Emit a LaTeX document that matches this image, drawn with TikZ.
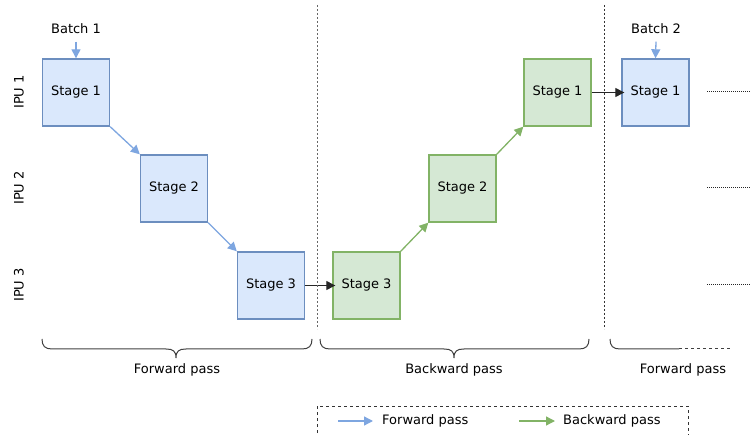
\documentclass[tikz,border=0pt]{standalone}
\usepackage{fontspec}
\setmainfont{DejaVu Sans}
\usetikzlibrary{arrows.meta}

\definecolor{fwdfill}{HTML}{DAE8FC}
\definecolor{fwdline}{HTML}{6C8EBF}
\definecolor{fwdarrow}{HTML}{7EA6E0}
\definecolor{bwdfill}{HTML}{D5E8D4}
\definecolor{bwdline}{HTML}{82B366}

\tikzset{
  stagebox/.style={minimum size=67pt, inner sep=0pt, line width=1.4pt},
  fwdbox/.style={stagebox, draw=fwdline, fill=fwdfill},
  bwdbox/.style={stagebox, draw=bwdline, fill=bwdfill},
  fwdarr/.style={draw=fwdarrow, line width=1.3pt, -{Triangle[width=9pt,length=9pt]}},
  bwdarr/.style={draw=bwdline, line width=1.3pt, -{Triangle[width=9pt,length=9pt]}},
  passarr/.style={draw=black!85, line width=1.3pt, -{Triangle[width=9pt,length=9pt]}},
  brace/.style={draw=black!75, line width=1pt},
}

\begin{document}
\begin{tikzpicture}[x=1pt, y=-1pt, font=\fontsize{13}{15}\selectfont]
\useasboundingbox (0,0) rectangle (752,435);

% IPU rows
\foreach \i/\y in {1/92, 2/188, 3/285} {
    \node[rotate=90] (ipu\i) at (19,\y) {IPU \i};
}

% Forward pass
\node[fwdbox] (f1) at (76,92.5) {Stage 1};
\node[fwdbox] (f2) at (174,188.5) {Stage 2};
\node[fwdbox] (f3) at (271,285.5) {Stage 3};

% Backward pass
\node[bwdbox] (b3) at (366.5,285.5) {Stage 3};
\node[bwdbox] (b2) at (462.5,188.5) {Stage 2};
\node[bwdbox] (b1) at (557.5,92.5) {Stage 1};

% Next batch
\node[fwdbox] (n1) at (655.5,92.5) {Stage 1};

% Batch inputs
\node (batch1) at (76,29) {Batch 1};
\node (batch2) at (656,29) {Batch 2};
\draw[fwdarr] (batch1.south) ++(0,4) -- (f1.north);
\draw[fwdarr] (batch2.south) ++(0,4) -- (n1.north);

% Connections
\draw[fwdarr] (f1.south east) -- (f2.north west);
\draw[fwdarr] (f2.south east) -- (f3.north west);
\draw[passarr] (f3.east) -- ([xshift=3pt]b3.west);
\draw[bwdarr] (b3.north east) -- (b2.south west);
\draw[bwdarr] (b2.north east) -- (b1.south west);
\draw[passarr] (b1.east) -- ([xshift=3pt]n1.west);

% Separators
\draw[black!60, line width=1pt, dash pattern=on 2pt off 2pt] (317,5) -- (317,329);
\draw[black!80, line width=1pt, dash pattern=on 2pt off 2pt] (604,5) -- (604,329);
\foreach \y in {92, 188, 285} {
    \draw[black!85, line width=1pt, dash pattern=on 1pt off 1pt] (707,\y) -- (750,\y);
}

% Braces
\draw[brace] (42,339) .. controls (42,346) and (45,349) .. (52,349) -- (166,349)
    .. controls (173,349) and (176,351) .. (176,358)
    .. controls (176,351) and (179,349) .. (186,349)
    -- (302,349) .. controls (309,349) and (312,346) .. (312,339);
\draw[brace] (320,339) .. controls (320,346) and (323,349) .. (330,349) -- (444,349)
    .. controls (451,349) and (454,351) .. (454,358)
    .. controls (454,351) and (457,349) .. (464,349)
    -- (579,349) .. controls (586,349) and (589,346) .. (589,339);
\draw[brace] (610,339) .. controls (610,346) and (613,349) .. (620,349) -- (679,349);
\draw[brace, dash pattern=on 3pt off 3pt] (679,349) -- (732,349);
\node (fwdlabel) at (177,370) {Forward pass};
\node (bwdlabel) at (454,370) {Backward pass};
\node (nextlabel) at (683,370) {Forward pass};

% Legend
\draw[black!80, line width=1pt, dash pattern=on 3pt off 3pt] (317,445) -- (317,406) -- (688,406) -- (688,445);
\coordinate (lf0) at (338,421);
\coordinate (lf1) at (373,421);
\coordinate (lb0) at (519,421);
\coordinate (lb1) at (555,421);
\draw[fwdarr] (lf0) -- (lf1);
\node[anchor=west, inner sep=0pt] (lfwd) at (382,421) {Forward pass};
\draw[bwdarr] (lb0) -- (lb1);
\node[anchor=west, inner sep=0pt] (lbwd) at (563,421) {Backward pass};

\end{tikzpicture}
\end{document}
